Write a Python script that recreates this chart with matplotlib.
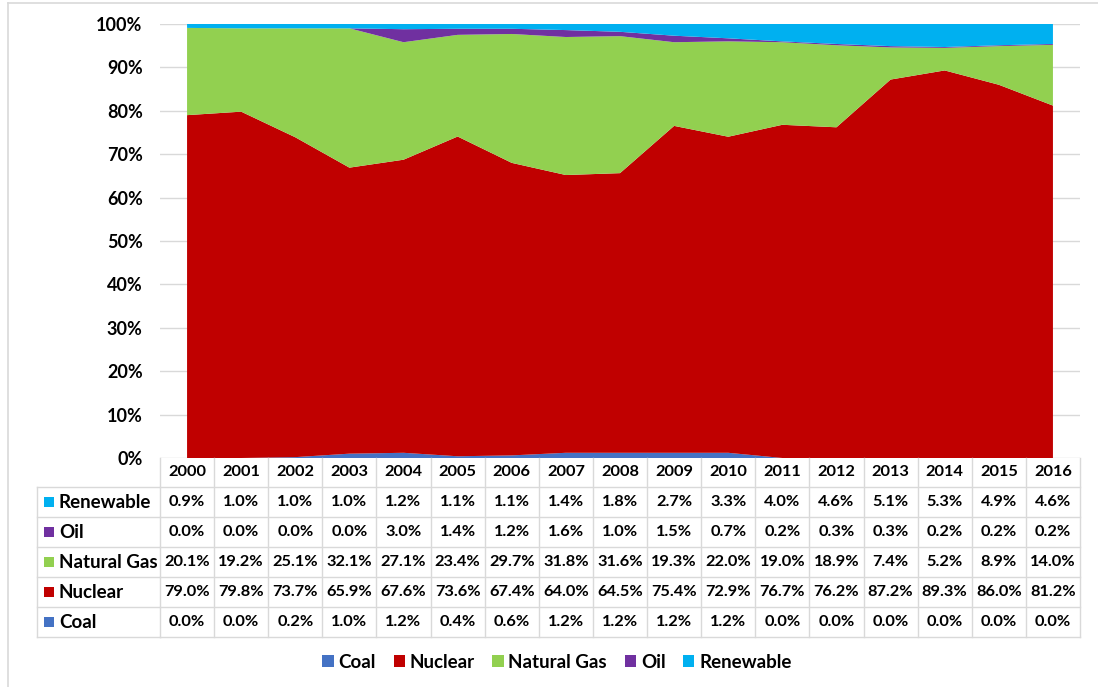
import numpy as np
import matplotlib
matplotlib.use("Agg")
import matplotlib.pyplot as plt
from matplotlib import transforms
from matplotlib.patches import Patch, Rectangle
from matplotlib.lines import Line2D

plt.rcParams['font.family'] = ['Lato', 'DejaVu Sans']

years = [2000, 2001, 2002, 2003, 2004, 2005, 2006, 2007, 2008,
         2009, 2010, 2011, 2012, 2013, 2014, 2015, 2016]
coal = [0.0, 0.0, 0.2, 1.0, 1.2, 0.4, 0.6, 1.2, 1.2, 1.2, 1.2, 0.0, 0.0, 0.0, 0.0, 0.0, 0.0]
nuclear = [79.0, 79.8, 73.7, 65.9, 67.6, 73.6, 67.4, 64.0, 64.5, 75.4, 72.9, 76.7, 76.2, 87.2, 89.3, 86.0, 81.2]
natural_gas = [20.1, 19.2, 25.1, 32.1, 27.1, 23.4, 29.7, 31.8, 31.6, 19.3, 22.0, 19.0, 18.9, 7.4, 5.2, 8.9, 14.0]
oil = [0.0, 0.0, 0.0, 0.0, 3.0, 1.4, 1.2, 1.6, 1.0, 1.5, 0.7, 0.2, 0.3, 0.3, 0.2, 0.2, 0.2]
renewable = [0.9, 1.0, 1.0, 1.0, 1.2, 1.1, 1.1, 1.4, 1.8, 2.7, 3.3, 4.0, 4.6, 5.1, 5.3, 4.9, 4.6]

series_names = ["Coal", "Nuclear", "Natural Gas", "Oil", "Renewable"]
series_vals = [coal, nuclear, natural_gas, oil, renewable]
series_colors = ["#4472C4", "#C00000", "#92D050", "#7030A0", "#00B0F0"]

W, H = 1098, 687
GRID = "#D9D9D9"
FS_NUM = 11.8
FS_LABEL = 13.5
FS_TICK = 13


def fx(px):
    return px / W


def fy(py):
    return 1 - py / H


fig = plt.figure(figsize=(W / 100, H / 100), dpi=100)

# outer chart frame
fig.add_artist(Line2D([fx(8), 1.0], [fy(3), fy(3)], color=GRID, lw=1.2))
fig.add_artist(Line2D([fx(8), fx(8)], [fy(3), 0.0], color=GRID, lw=1.2))

ax = fig.add_axes([fx(160), fy(458), (1080 - 160) / W, (458 - 24) / H])

# 100% stacked area
data = np.array(series_vals, dtype=float)
shares = data / data.sum(axis=0) * 100
x = np.arange(len(years))
ax.stackplot(x, *shares, colors=series_colors, linewidth=0)

ax.set_xlim(-0.5, len(years) - 0.5)
ax.set_ylim(0, 100)
ax.set_yticks(np.arange(0, 101, 10))
ax.set_yticklabels([f"{v}%" for v in range(0, 101, 10)], fontsize=FS_TICK, fontweight="bold")
ax.tick_params(axis="y", length=0, pad=12.5)
ax.set_xticks([])
ax.grid(axis="y", color=GRID, lw=1)
ax.set_axisbelow(True)
for s in ax.spines.values():
    s.set_visible(False)

# data table below the plot
trans = transforms.blended_transform_factory(ax.transData, fig.transFigure)
row_lines = [487, 517, 547, 577, 607, 637]
n = len(years)

for yl in row_lines:
    fig.add_artist(Line2D([fx(37), fx(160)], [fy(yl), fy(yl)], color=GRID, lw=1))
    ax.add_artist(Line2D([-0.5, n - 0.5], [fy(yl), fy(yl)], color=GRID, lw=1,
                         transform=trans, clip_on=False))
fig.add_artist(Line2D([fx(37), fx(37)], [fy(487), fy(637)], color=GRID, lw=1))
for i in range(n + 1):
    ax.add_artist(Line2D([i - 0.5, i - 0.5], [fy(458), fy(637)], color=GRID, lw=1,
                         transform=trans, clip_on=False))

# header with years
for i, yr in enumerate(years):
    ax.text(i, fy(472.5), str(yr), transform=trans, ha="center", va="center",
            fontsize=FS_NUM, fontweight="bold", clip_on=False)

# body rows, top row is the top layer of the stack
for r, idx in enumerate(reversed(range(len(series_names)))):
    yc = (row_lines[r] + row_lines[r + 1]) / 2
    fig.add_artist(Rectangle((fx(44), fy(yc + 5)), 10 / W, 10 / H,
                             facecolor=series_colors[idx], edgecolor="none"))
    fig.text(fx(59), fy(yc), series_names[idx], ha="left", va="center",
             fontsize=FS_LABEL, fontweight="bold")
    for i, v in enumerate(series_vals[idx]):
        ax.text(i, fy(yc), f"{v:.1f}%", transform=trans, ha="center", va="center",
                fontsize=FS_NUM, fontweight="bold", clip_on=False)

# legend
handles = [Patch(facecolor=c, edgecolor="none") for c in series_colors]
fig.legend(handles, series_names, loc="center", bbox_to_anchor=(fx(557), fy(662)),
           ncol=5, frameon=False, handlelength=0.6, handleheight=0.6,
           handletextpad=0.25, columnspacing=0.95,
           prop={"size": FS_LABEL, "weight": "bold"})

fig.savefig("out.png", dpi=100)
